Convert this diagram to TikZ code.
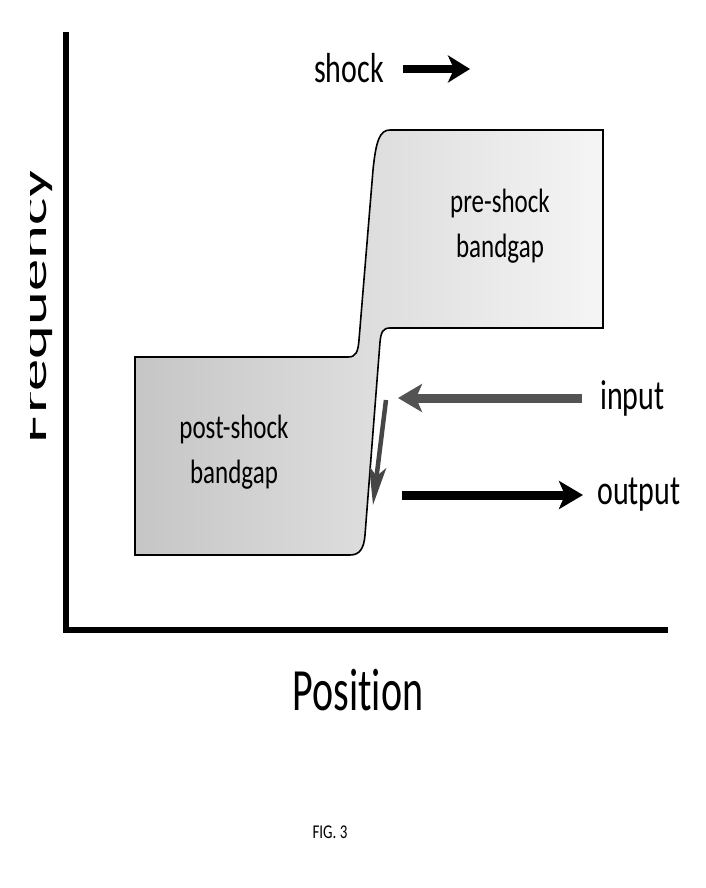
\documentclass[tikz,border=0pt]{standalone}
\usepackage{fontspec}
\setmainfont{Carlito}[RawFeature={-liga;-clig;-calt;-dlig}]
\usetikzlibrary{arrows.meta,positioning}
\tikzset{
    tall-text/.style = {inner sep=0pt, yscale=#1, transform shape},
    band-label/.style = {tall-text=1.35, align=center, font=\fontsize{25}{33}\selectfont},
    side-label/.style = {tall-text=1.4, font=\fontsize{30}{30}\selectfont},
    fat-arrow/.style = {line width=9pt, -{Stealth[length=24pt,width=28pt,inset=6pt]}},
}

\begin{document}
\begin{tikzpicture}[x=1pt, y=-1pt]
\useasboundingbox (0,0) rectangle (706,888);

% shocked band
\path[draw=black, line width=1.6pt, left color=gray!45, right color=gray!8]
  (135,357) -- (348,357) .. controls (356,357) and (358,352) .. (359,340)
  -- (373,170) .. controls (376,140) and (380,130) .. (390,130)
  -- (603,130) -- (603,328) -- (390,328) .. controls (383,328) and (381,332) .. (380,342)
  -- (365,535) .. controls (364,548) and (360,555) .. (350,555) -- (135,555) -- cycle;

\node[band-label] (pre-label) at (500,226) {pre-shock\\bandgap};
\node[band-label] (post-label) at (234,452) {post-shock\\bandgap};

% axes
\coordinate (origin) at (66,630);
\coordinate (y-top) at (66,32);
\coordinate (x-end) at (668,630);
\draw[line width=5.5pt] (y-top) -- (origin) -- (x-end);

\node[tall-text=1.5, font=\fontsize{40}{40}\selectfont] (position) at (358,690) {Posit\kern0pt ion};
\begin{scope}
\clip (30,0) rectangle (706,888);
\node[tall-text=1.7, rotate=90, anchor=base, font=\fontsize{38}{38}\selectfont] (frequency) at (46,306) {Frequency};
\end{scope}

% shock direction
\node[side-label, anchor=base] (shock) at (349,83) {shock};
\coordinate (shock-tail) at (403,69);
\coordinate (shock-tip) at (470,69);
\draw[line width=8pt, -{Stealth[length=22pt,width=27pt,inset=6pt]}] (shock-tail) -- (shock-tip);

% input and output waves
\coordinate (input-tail) at (582,398);
\coordinate (input-tip) at (398,398);
\coordinate (output-tail) at (402,495);
\coordinate (output-tip) at (583,495);
\coordinate (conv-tail) at (386,400);
\coordinate (conv-tip) at (373,505);
\draw[fat-arrow, gray!65!black] (input-tail) -- (input-tip);
\draw[fat-arrow] (output-tail) -- (output-tip);
\draw[line width=4.5pt, gray!55!black, -{Stealth[length=38pt,width=17pt,inset=9pt]}] (conv-tail) -- (conv-tip);

\node[side-label, right=18pt of input-tail] (input) {input};
\node[side-label, right=14pt of output-tip] (output) {output};

\node[tall-text=1.3, font=\fontsize{15}{15}\selectfont] (fig-label) at (330,832) {FIG. 3};
\end{tikzpicture}
\end{document}
